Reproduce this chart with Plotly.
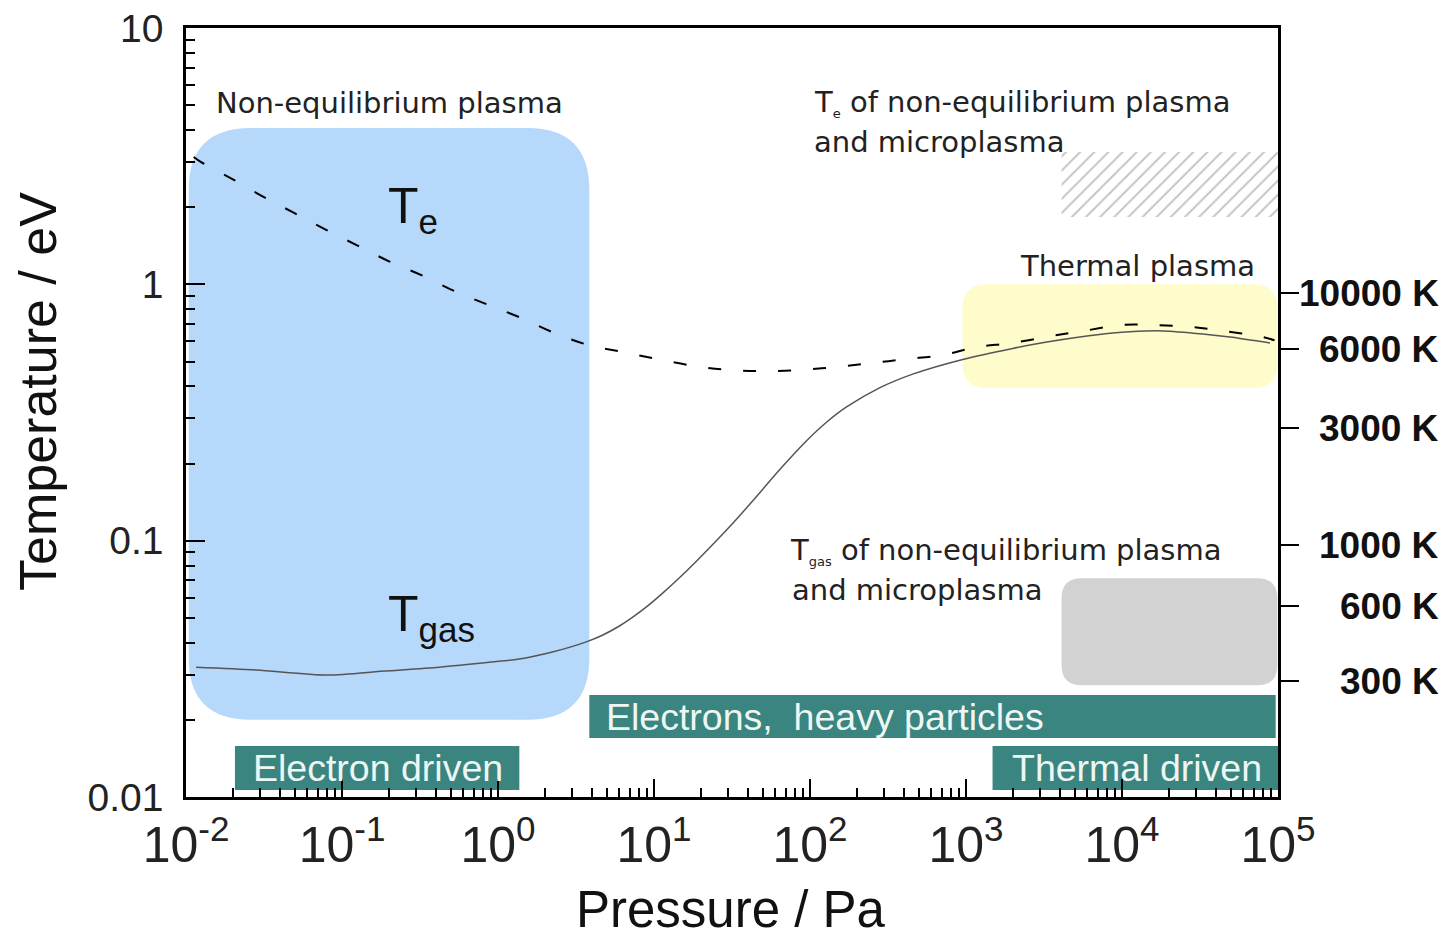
import numpy as np
import plotly.graph_objects as go

# ---------------- data ----------------
pressure_te = [0.0112, 0.0125, 0.0197, 0.0316, 0.0493, 0.0791, 0.125, 0.200, 0.332, 0.540,
               0.867, 1.41, 2.30, 3.79, 6.27, 10.5, 18.2, 30.5, 50.4, 85.7,
               146, 248, 417, 709, 1172, 1965, 3546, 5609, 9680, 16250,
               28080, 45700, 80200, 95000]
te_ev = [3.14, 3.00, 2.58, 2.19, 1.90, 1.63, 1.42, 1.23, 1.078, 0.934,
         0.831, 0.739, 0.646, 0.580, 0.545, 0.511, 0.480, 0.463, 0.459, 0.463,
         0.476, 0.493, 0.511, 0.530, 0.569, 0.590, 0.629, 0.657, 0.694, 0.694,
         0.681, 0.657, 0.623, 0.605]

pressure_tgas = [0.0116, 0.0281, 0.0803, 0.186, 0.420, 0.905, 1.369, 2.23, 3.68, 4.67,
                 6.00, 7.27, 8.94, 11.32, 14.56, 18.7, 31.8, 47.5, 63.8, 95.1,
                 127.6, 171.6, 279, 455, 953, 1995, 3297, 5361, 8730, 11220,
                 18280, 33000, 49200, 88900]
tgas_ev = [0.0321, 0.0313, 0.0299, 0.0310, 0.0321, 0.0336, 0.03454, 0.03678, 0.04030, 0.04277,
           0.04646, 0.05020, 0.05515, 0.06231, 0.07167, 0.08318, 0.1164, 0.1534, 0.1891, 0.2455,
           0.2898, 0.3324, 0.3946, 0.4465, 0.5094, 0.5623, 0.5951, 0.6229, 0.6457, 0.6534,
           0.6581, 0.6403, 0.6229, 0.5903]

kelvin_labels = ["10000 K", "6000 K", "3000 K", "1000 K", "600 K", "300 K"]
kelvin_tick_ev = [0.922, 0.558, 0.274, 0.0959, 0.0554, 0.0283]

pressure_ticks = [0.01, 0.1, 1, 10, 100, 1000, 10000, 100000]
pressure_tick_text = ["10<sup>-2</sup>", "10<sup>-1</sup>", "10<sup>0</sup>", "10<sup>1</sup>",
                      "10<sup>2</sup>", "10<sup>3</sup>", "10<sup>4</sup>", "10<sup>5</sup>"]
temp_ticks = [0.01, 0.1, 1, 10]
temp_tick_text = ["0.01", "0.1", "1", "10"]

# regions: [pressure range in Pa], [temperature range in eV]
nonequil_p, nonequil_t = [0.0104, 3.85], [0.0200, 4.07]
thermal_p, thermal_t = [950, 99500], [0.394, 1.0]
tgas_micro_p, tgas_micro_t = [4100, 99000], [0.0273, 0.0714]
te_micro_p, te_micro_t = [4100, 100000], [1.83, 3.28]
electron_driven_p, electron_driven_t = [0.0206, 1.37], [0.01064, 0.0158]
heavy_p, heavy_t = [3.85, 96600], [0.0170, 0.0250]
thermal_driven_p, thermal_driven_t = [1480, 100000], [0.01064, 0.0158]

# ---------------- geometry ----------------
W, H = 1445, 941
ML, MR, MT, MB = 186, 167, 28, 144
PW, PH = W - ML - MR, H - MT - MB
XR, YR = [-2, 5], [-2, 1]
PXD = PW / (XR[1] - XR[0])
PYD = PH / (YR[1] - YR[0])


def pxp(x):
    return (x - ML) / PW


def pyp(y):
    return (H - MB - y) / PH


def minor_vals(lo, hi):
    return [k * 10.0 ** e for e in range(lo, hi) for k in range(2, 10)]


def rounded_path(p, t, r):
    lx0, lx1 = np.log10(p[0]), np.log10(p[1])
    ly0, ly1 = np.log10(t[0]), np.log10(t[1])
    rx, ry = r / PXD, r / PYD

    def D(a, b):
        return f"{10 ** a:.9f},{10 ** b:.9f}"

    return (f"M{D(lx0 + rx, ly0)} L{D(lx1 - rx, ly0)} Q{D(lx1, ly0)} {D(lx1, ly0 + ry)} "
            f"L{D(lx1, ly1 - ry)} Q{D(lx1, ly1)} {D(lx1 - rx, ly1)} "
            f"L{D(lx0 + rx, ly1)} Q{D(lx0, ly1)} {D(lx0, ly1 - ry)} "
            f"L{D(lx0, ly0 + ry)} Q{D(lx0, ly0)} {D(lx0 + rx, ly0)} Z")


ARIAL = "Arial, Liberation Sans, sans-serif"
DEJA = "DejaVu Sans, sans-serif"
TEAL = "#3a857f"

fig = go.Figure()

# hatched region (Te of non-equilibrium plasma and microplasma)
fig.add_trace(go.Scatter(
    x=[te_micro_p[0], te_micro_p[1], te_micro_p[1], te_micro_p[0], te_micro_p[0]],
    y=[te_micro_t[0], te_micro_t[0], te_micro_t[1], te_micro_t[1], te_micro_t[0]],
    mode="lines", fill="toself", line=dict(width=0, color="rgba(0,0,0,0)"),
    fillcolor="rgba(0,0,0,0)",
    fillpattern=dict(shape="/", fgcolor="#8a8a8a", bgcolor="white", size=10, solidity=0.2),
    hoverinfo="skip", showlegend=False))

fig.add_trace(go.Scatter(x=pressure_tgas, y=tgas_ev, mode="lines",
                         line=dict(color="#555555", width=1.5, shape="spline", smoothing=0.8),
                         showlegend=False))
fig.add_trace(go.Scatter(x=pressure_te, y=te_ev, mode="lines",
                         line=dict(color="black", width=2, dash="13px,22px", shape="spline"),
                         showlegend=False))
fig.add_trace(go.Scatter(x=[None], y=[None], yaxis="y2", showlegend=False))

shapes = []
shapes.append(dict(type="path", xref="x", yref="y", layer="below",
                   path=rounded_path(nonequil_p, nonequil_t, 62),
                   fillcolor="#b5d8fb", line=dict(width=0)))
shapes.append(dict(type="path", xref="x", yref="y", layer="below",
                   path=rounded_path(thermal_p, thermal_t, 24),
                   fillcolor="#fefcca", line=dict(width=0)))
shapes.append(dict(type="path", xref="x", yref="y", layer="below",
                   path=rounded_path(tgas_micro_p, tgas_micro_t, 20),
                   fillcolor="#d2d2d2", line=dict(width=0)))
for p, t in [(electron_driven_p, electron_driven_t), (heavy_p, heavy_t),
             (thermal_driven_p, thermal_driven_t)]:
    shapes.append(dict(type="rect", xref="x", yref="y", layer="below",
                       x0=p[0], x1=p[1], y0=t[0], y1=t[1],
                       fillcolor=TEAL, line=dict(width=0)))

ann = []


def text(x, y, s, size=29, family=DEJA, color="#222222", xanchor="left", **kw):
    ann.append(dict(x=pxp(x), y=pyp(y), xref="paper", yref="paper", text=s,
                    showarrow=False, xanchor=xanchor, yanchor="middle",
                    font=dict(size=size, family=family, color=color), **kw))


small_e = '<sub><span style="font-size:13px">e</span></sub>'
small_gas = '<sub><span style="font-size:13px">gas</span></sub>'

text(214, 103, "Non-equilibrium plasma")
text(812, 103, "T" + small_e + " of non-equilibrium plasma")
text(812, 142, "and microplasma")
text(1018, 266, "Thermal plasma")
text(788, 551, "T" + small_gas + " of non-equilibrium plasma")
text(790, 590, "and microplasma")
text(386, 210, "T<sub>e</sub>", size=50, family=ARIAL, color="#111111")
text(386, 617, "T<sub>gas</sub>", size=50, family=ARIAL, color="#111111")
text(251, 768, "Electron driven", size=37.5, family=ARIAL, color="#eef6f4")
text(604, 717, "Electrons,\u00a0 heavy particles", size=37.5, family=ARIAL, color="#eef6f4")
text(1010, 768, "Thermal driven", size=37.5, family=ARIAL, color="#eef6f4")
text(731, 909, "Pressure / Pa", size=51, family=ARIAL, color="#111111", xanchor="center")
ann.append(dict(x=pxp(38), y=pyp(392), xref="paper", yref="paper", text="Temperature / eV",
                showarrow=False, textangle=-90, xanchor="center", yanchor="middle",
                font=dict(size=52, family=ARIAL, color="#111111")))

# right-hand Kelvin labels (right aligned)
for ev, lab in zip(kelvin_tick_ev, kelvin_labels):
    ann.append(dict(x=pxp(1441), y=np.log10(ev), xref="paper", yref="y", text=lab,
                    showarrow=False, xanchor="right", yanchor="middle",
                    font=dict(size=37, family=ARIAL, color="#111111", weight="bold")))

fig.update_layout(
    width=W, height=H,
    margin=dict(l=ML, r=MR, t=MT, b=MB, pad=0),
    paper_bgcolor="white", plot_bgcolor="white",
    shapes=shapes, annotations=ann, showlegend=False,
    xaxis=dict(type="log", range=XR, tickmode="array",
               tickvals=pressure_ticks, ticktext=pressure_tick_text,
               showgrid=False, zeroline=False, automargin=False,
               showline=True, linecolor="black", linewidth=2.5, mirror=True,
               ticks="inside", ticklen=18, tickwidth=2, tickcolor="black",
               minor=dict(tickmode="array", tickvals=minor_vals(-2, 5),
                          ticks="inside", ticklen=9, tickwidth=1.5, tickcolor="black", showgrid=False),
               tickfont=dict(size=50, family=ARIAL, color="#222222"),
               ticklabelstandoff=2),
    yaxis=dict(type="log", range=YR, tickmode="array",
               tickvals=temp_ticks, ticktext=temp_tick_text,
               showgrid=False, zeroline=False, automargin=False,
               showline=True, linecolor="black", linewidth=2.5, mirror=True,
               ticks="inside", ticklen=19, tickwidth=2, tickcolor="black",
               minor=dict(tickmode="array", tickvals=minor_vals(-2, 1),
                          ticks="inside", ticklen=9, tickwidth=1.5, tickcolor="black", showgrid=False),
               tickfont=dict(size=39, family=ARIAL, color="#222222"),
               ticklabelstandoff=12),
    yaxis2=dict(type="log", range=YR, overlaying="y", side="right", anchor="x",
                tickmode="array", tickvals=kelvin_tick_ev, ticktext=[""] * len(kelvin_tick_ev),
                showgrid=False, zeroline=False, showline=False, automargin=False,
                ticks="outside", ticklen=20, tickwidth=2, tickcolor="black"),
)

fig.write_html("out.html")
